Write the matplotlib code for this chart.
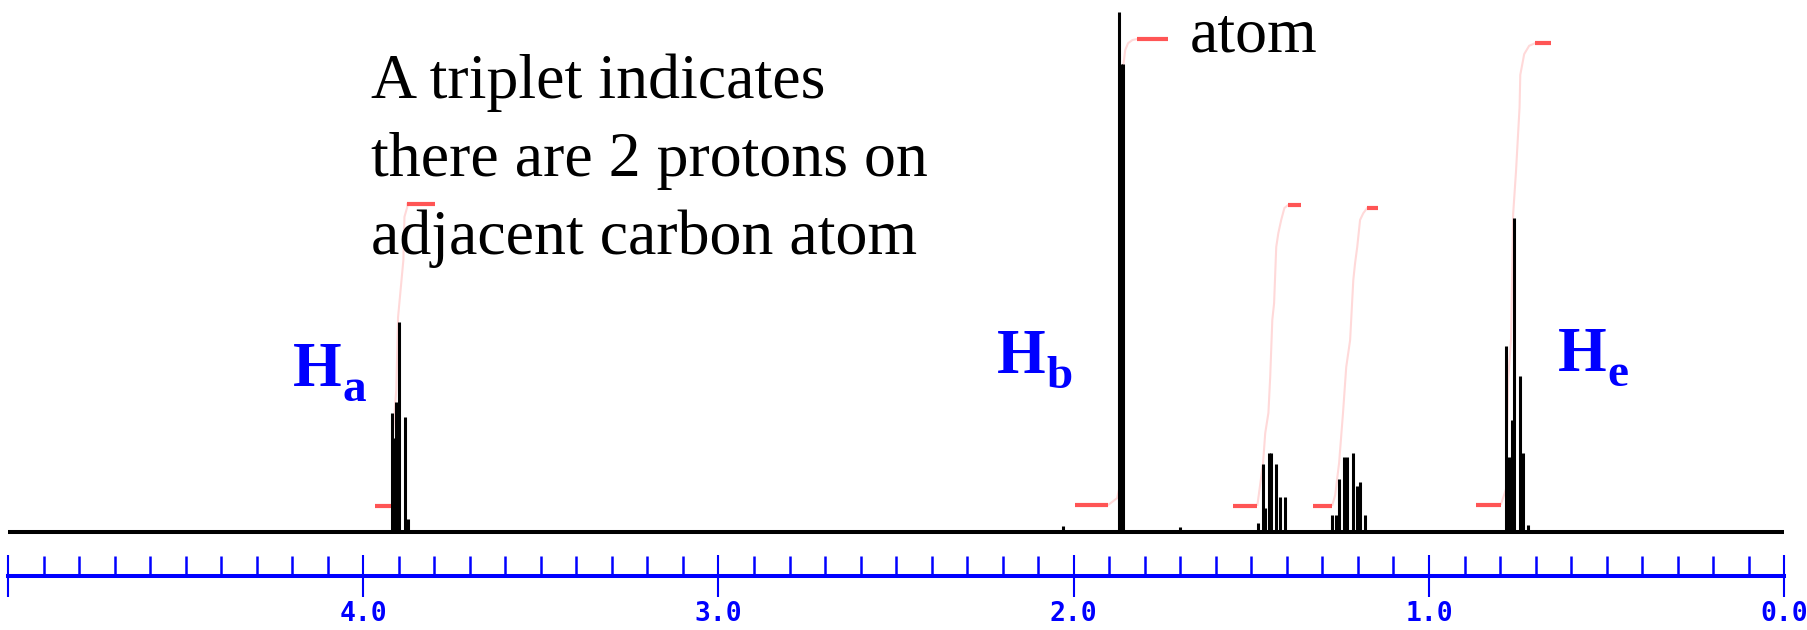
# nmr_triplet.py - 1H NMR spectrum with integrals, ruler in ppm (5.0 .. 0.0)
import matplotlib.pyplot as plt
from matplotlib.ticker import MultipleLocator, FixedFormatter, FixedLocator

# peak sticks: chemical shift (ppm) and intensity (tallest = 100)
ha_ppm = [3.919, 3.913, 3.907, 3.898, 3.882, 3.873]
ha_int = [22.9, 18.0, 25.0, 40.4, 22.1, 2.5]
hb_ppm = [1.872, 1.866, 1.862]
hb_int = [100.0, 90.0, 90.0]
hc_ppm = [1.481, 1.466, 1.461, 1.449, 1.444, 1.430, 1.419, 1.405]
hc_int = [1.7, 13.1, 4.6, 15.2, 15.2, 13.1, 6.7, 6.7]
hd_ppm = [1.272, 1.261, 1.253, 1.239, 1.231, 1.214, 1.203, 1.194, 1.180]
hd_int = [3.3, 3.3, 10.2, 14.4, 14.4, 15.2, 8.8, 9.6, 3.3]
he_ppm = [0.784, 0.774, 0.767, 0.760, 0.745, 0.735, 0.722]
he_int = [35.8, 14.4, 21.5, 60.4, 30.0, 15.2, 1.3]
tiny_ppm = [2.030, 1.700]
tiny_int = [1.2, 1.0]

# integral traces: rising part (faint) + flat ends (solid red)
ia_ppm = [3.918, 3.918, 3.916, 3.907, 3.902, 3.893, 3.887, 3.884, 3.876, 3.876]
ia_val = [5.0, 6.7, 19.0, 27.3, 41.3, 47.9, 52.3, 60.6, 62.5, 63.1]
ib_ppm = [1.903, 1.878, 1.866, 1.866, 1.861, 1.855, 1.847, 1.835, 1.821]
ib_val = [5.2, 6.5, 10.2, 83.1, 89.4, 92.7, 94.0, 94.6, 94.8]
ic_ppm = [1.483, 1.478, 1.467, 1.461, 1.452, 1.447, 1.441, 1.436, 1.430, 1.424, 1.416, 1.407, 1.396]
ic_val = [5.2, 7.7, 13.3, 19.0, 22.9, 29.8, 40.8, 44.0, 54.8, 57.5, 60.0, 62.3, 62.9]
id_ppm = [1.272, 1.264, 1.253, 1.242, 1.233, 1.222, 1.213, 1.208, 1.202, 1.194, 1.185, 1.174]
id_val = [5.2, 7.1, 13.3, 22.9, 31.7, 36.9, 48.5, 51.7, 54.8, 60.0, 61.3, 62.3]
ie_ppm = [0.797, 0.783, 0.777, 0.769, 0.763, 0.755, 0.745, 0.743, 0.732, 0.718, 0.701]
ie_val = [5.4, 8.3, 29.4, 37.1, 61.2, 69.4, 81.7, 87.9, 91.9, 93.5, 94.0]
# flat ends: (start ppm, end ppm, level)
low_ends = [(3.966, 3.918, 5.0), (1.996, 1.903, 5.2), (1.551, 1.483, 5.0),
            (1.326, 1.272, 5.0), (0.867, 0.797, 5.2)]
high_ends = [(3.876, 3.797, 63.1), (1.821, 1.734, 94.8), (1.396, 1.360, 62.9),
             (1.174, 1.143, 62.3), (0.701, 0.656, 94.0)]

major_ticks = [5.0, 4.0, 3.0, 2.0, 1.0, 0.0]
major_labels = ["", "4.0", "3.0", "2.0", "1.0", "0.0"]

W, H = 1808, 630
fig = plt.figure(figsize=(W / 100, H / 100), dpi=100)
ax = fig.add_axes([0, 0, 1, 1])
ax.set_xlim(5.0225, -0.0669)
ax.set_ylim(-18.85, 102.3)

RED = "#ff5555"
PINK = "#ffd9d9"
for xs, ys in [(ia_ppm, ia_val), (ib_ppm, ib_val), (ic_ppm, ic_val),
               (id_ppm, id_val), (ie_ppm, ie_val)]:
    ax.plot(xs, ys, color=PINK, lw=1.5, zorder=1)
for x0, x1, lev in low_ends + high_ends:
    ax.hlines(lev, x0, x1, color=RED, lw=3, zorder=2)

# spectrum: baseline + sticks
ax.hlines(0, 0.0, 5.0, color="black", lw=2.9, zorder=3)
for xs, ys in [(ha_ppm, ha_int), (hb_ppm, hb_int), (hc_ppm, hc_int),
               (hd_ppm, hd_int), (he_ppm, he_int), (tiny_ppm, tiny_int)]:
    ax.vlines(xs, 0, ys, color="black", lw=2.2, zorder=3)

# ruler as the bottom spine
for s in ["top", "right", "left"]:
    ax.spines[s].set_visible(False)
ax.spines["bottom"].set_position(("data", -8.46))
ax.spines["bottom"].set_color("blue")
ax.spines["bottom"].set_linewidth(2.9)
ax.spines["bottom"].set_bounds(0.0, 5.0)
ax.set_yticks([])
ax.xaxis.set_major_locator(FixedLocator(major_ticks))
ax.xaxis.set_major_formatter(FixedFormatter(major_labels))
ax.xaxis.set_minor_locator(MultipleLocator(0.1))
ax.tick_params(axis="x", which="major", direction="inout", length=30, width=1.5,
               color="blue", labelcolor="blue", pad=3, labelsize=19)
ax.tick_params(axis="x", which="minor", direction="in", length=14.4, width=1.8, color="blue")
for lab in ax.get_xticklabels():
    lab.set_family("DejaVu Sans Mono")
    lab.set_fontweight("bold")
ax.patch.set_visible(False)


def px(x, y):
    return x / W, 1 - y / H


serif = "Liberation Serif"
for txt, y in [("A triplet indicates", 98), ("there are 2 protons on", 176),
               ("adjacent carbon atom", 254)]:
    fig.text(*px(371, y), txt, family=serif, fontsize=46, va="baseline", ha="left")
fig.text(*px(1190, 52), "atom", family=serif, fontsize=46, va="baseline", ha="left")

for (hx, hy), (sx, sy), sub in [((293, 386), (343, 401), "a"),
                                ((997, 373), (1046, 388), "b"),
                                ((1558, 371), (1607, 386), "e")]:
    fig.text(*px(hx, hy), "H", family=serif, weight="bold", fontsize=45,
             color="blue", va="baseline", ha="left")
    fig.text(*px(sx, sy), sub, family=serif, weight="bold", fontsize=34,
             color="blue", va="baseline", ha="left")

fig.savefig("out.png", dpi=100)
